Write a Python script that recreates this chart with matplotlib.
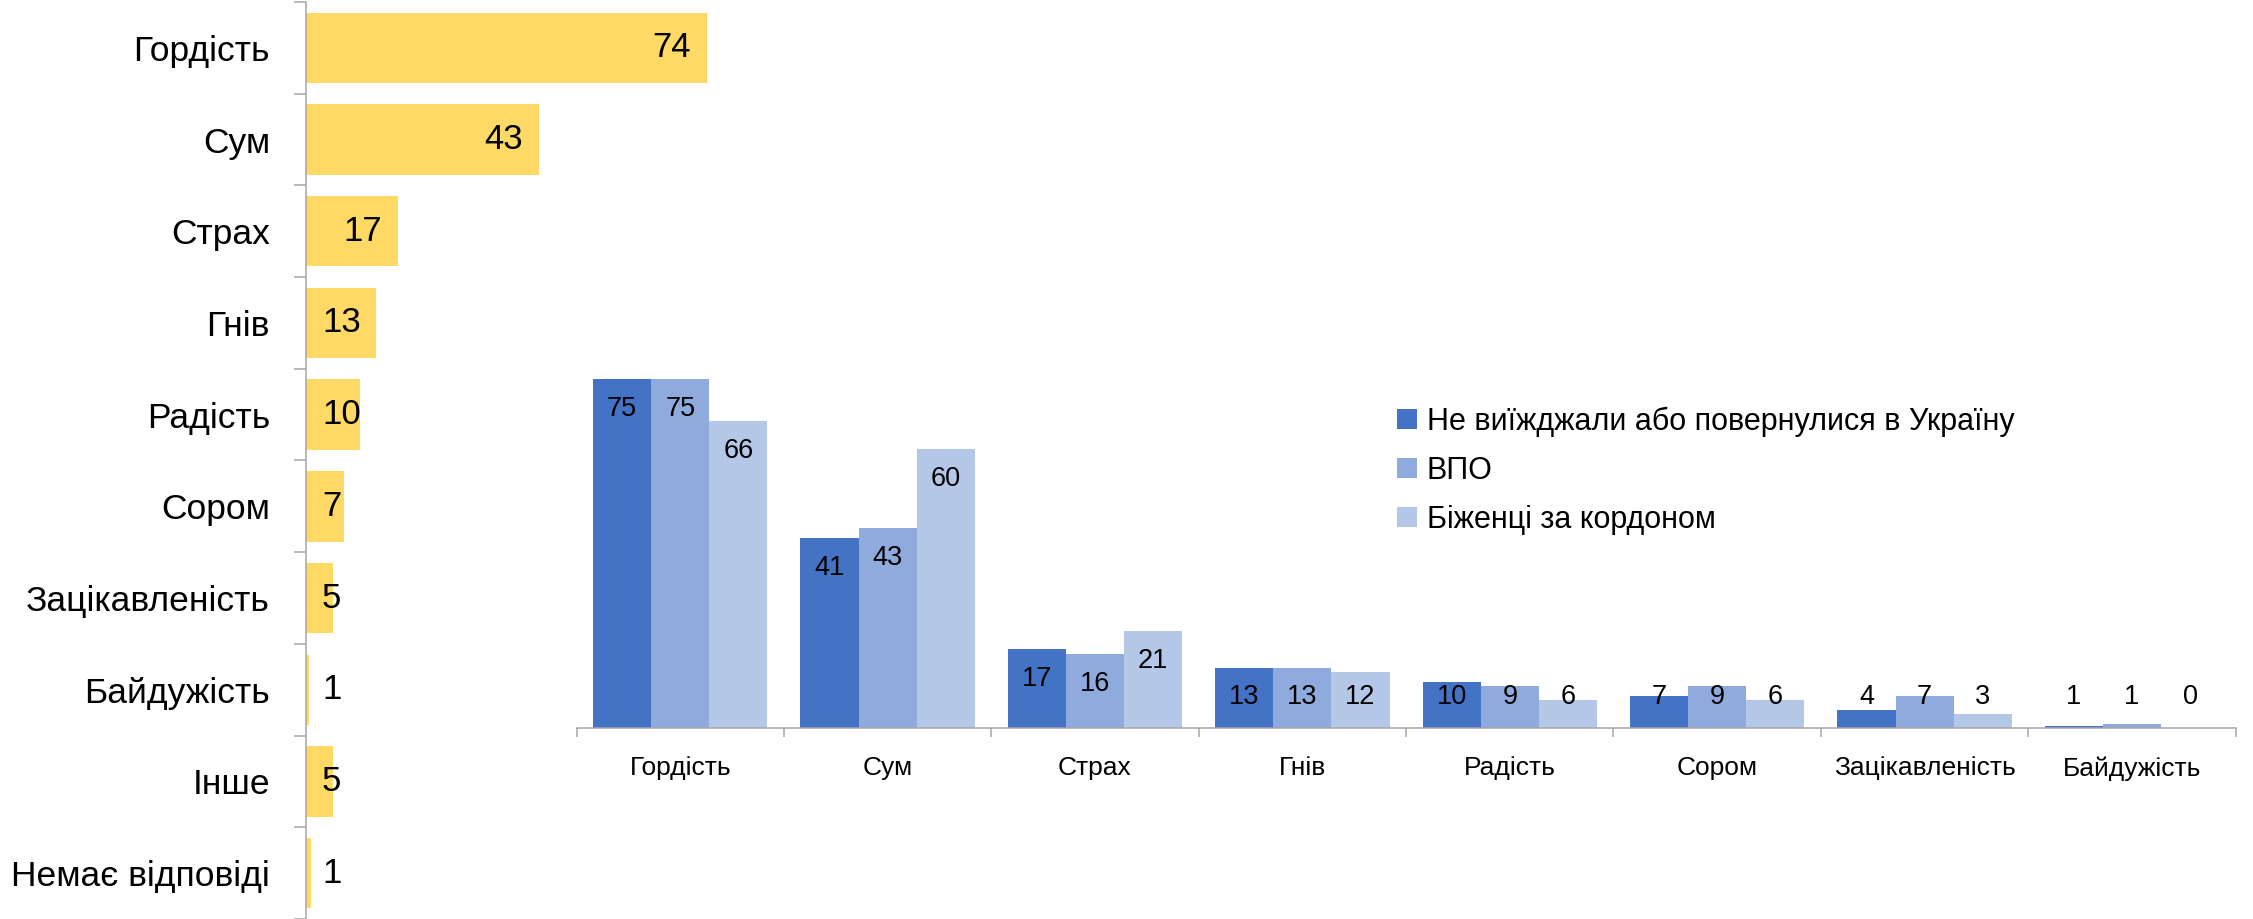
import matplotlib
matplotlib.use("Agg")
import matplotlib.pyplot as plt
from matplotlib import transforms

# ---------------- data ----------------
left_categories = ["Гордість", "Сум", "Страх", "Гнів", "Радість", "Сором",
                   "Зацікавленість", "Байдужість", "Інше", "Немає відповіді"]
left_values = [74, 43, 17, 13, 10, 7, 5, 0.6, 5, 1.0]

right_categories = ["Гордість", "Сум", "Страх", "Гнів", "Радість", "Сором",
                    "Зацікавленість", "Байдужість"]
series_names = ["Не виїжджали або повернулися в Україну", "ВПО", "Біженці за кордоном"]
stayed = [75, 41, 17, 13, 10, 7, 4, 0.6]
idp = [75, 43, 16, 13, 9, 9, 7, 0.9]
refugees = [66, 60, 21, 12, 6, 6, 3, 0]

# ---------------- style ----------------
plt.rcParams["font.family"] = ["Liberation Sans", "DejaVu Sans"]

YELLOW = "#FFD966"
BLUES = ["#4472C4", "#8FAADC", "#B4C7E7"]
GRAY = "#A6A6A6"

W, H = 2253, 919
fig = plt.figure(figsize=(W / 100, H / 100), dpi=100)

# ---------------- left chart ----------------
ax1 = fig.add_axes([306 / W, 0 / H, 433.6 / W, 917 / H])
ypos = list(range(len(left_categories)))
ax1.barh(ypos, left_values, height=0.767, color=YELLOW)
ax1.set_xlim(0, 80)
ax1.set_ylim(len(left_categories) - 0.5, -0.5)
for s in ["top", "right", "bottom"]:
    ax1.spines[s].set_visible(False)
ax1.spines["left"].set_color(GRAY)
ax1.spines["left"].set_linewidth(1.1)
ax1.set_xticks([])
ax1.set_yticks(ypos)
ax1.set_yticklabels(left_categories, fontsize=25.5)
ax1.tick_params(axis="y", which="major", length=0, pad=26)
ax1.set_yticks([i - 0.5 for i in range(len(left_categories) + 1)], minor=True)
ax1.tick_params(axis="y", which="minor", length=9, width=1.1, color=GRAY, direction="out")

fig.canvas.draw()
renderer = fig.canvas.get_renderer()
left_in = transforms.offset_copy(ax1.transData, fig=fig, x=-16, y=0, units="dots")
spine_px = ax1.transData.transform((0, 0))[0]
for y, v in zip(ypos, left_values):
    t = ax1.text(v, y, f"{round(v)}", transform=left_in, ha="right", va="center",
                 fontsize=25, color="black")
    bb = t.get_window_extent(renderer=renderer)
    if bb.x0 < spine_px + 16:
        t.set_transform(transforms.offset_copy(ax1.transData, fig=fig, x=16, y=0, units="dots"))
        t.set_x(0)
        t.set_ha("left")

# ---------------- right chart ----------------
ax2 = fig.add_axes([576.5 / W, (919 - 728.3) / H, (2235.7 - 576.5) / W, 465.3 / H])
xs = list(range(len(right_categories)))
bw = 0.28
containers = []
for k, (vals, col) in enumerate(zip([stayed, idp, refugees], BLUES)):
    offs = (k - 1) * bw
    c = ax2.bar([x + offs for x in xs], vals, width=bw, color=col, label=series_names[k])
    containers.append(c)
ax2.set_xlim(-0.5, len(right_categories) - 0.5)
ax2.set_ylim(0, 100)
for s in ["top", "right", "left"]:
    ax2.spines[s].set_visible(False)
ax2.spines["bottom"].set_color(GRAY)
ax2.spines["bottom"].set_linewidth(1.1)
ax2.set_yticks([])
ax2.set_xticks(xs)
ax2.set_xticklabels(right_categories, fontsize=19)
ax2.tick_params(axis="x", which="major", length=0, pad=20)
ax2.set_xticks([i - 0.5 for i in range(len(right_categories) + 1)], minor=True)
ax2.tick_params(axis="x", which="minor", length=6.5, width=1.1, color=GRAY, direction="out")

ppu = ax2.transData.transform((0, 1))[1] - ax2.transData.transform((0, 0))[1]
for k, vals in enumerate([stayed, idp, refugees]):
    offs = (k - 1) * bw
    for x, v in zip(xs, vals):
        yc = max(v * ppu - 30, 31) / ppu
        ax2.text(x + offs, yc, f"{round(v)}", ha="center", va="center",
                 fontsize=19.5, color="black")

fig.legend(handles=containers, labels=series_names, loc="upper left",
           bbox_to_anchor=(1397 / W, 1 - 406.5 / H), frameon=False, fontsize=22,
           handlelength=0.65, handleheight=0.65, handletextpad=0.32,
           labelspacing=0.62, borderpad=0, borderaxespad=0)

fig.savefig("out.png", dpi=100)
